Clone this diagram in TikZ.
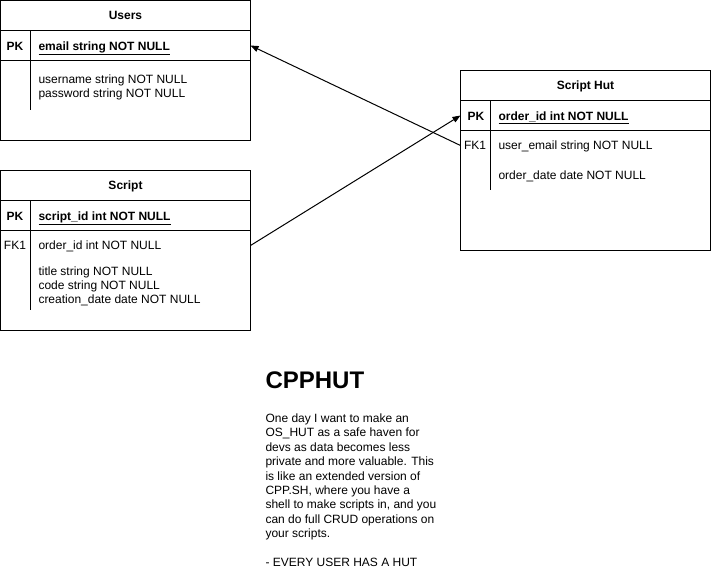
\documentclass[tikz,border=0pt]{standalone}
\usepackage{fontspec}
\setmainfont{Liberation Sans}
\usetikzlibrary{arrows.meta,positioning}

\begin{document}
\begin{tikzpicture}[
            x = 1pt, y = -1pt, % pixel grid, y pointing down
            > = {Triangle[length=8pt,width=6pt]}, % arrow head style
            line width = 1pt,
            font = \fontsize{12}{14.4}\selectfont,
            head/.style = {draw, anchor=north west, minimum width=250pt, minimum height=30pt,
                           inner sep=0pt, outer sep=0pt, text height=8.6pt, text depth=0pt,
                           font=\fontsize{12}{14.4}\selectfont\bfseries},
            row/.style = {draw, minimum width=250pt, inner sep=0pt, outer sep=0pt},
            key/.style = {anchor=base, inner sep=0pt},
            pk/.style = {key, font=\fontsize{12}{14.4}\selectfont\bfseries},
            field/.style = {anchor=base west, inner sep=0pt},
            pkey/.style = {field, font=\fontsize{12}{14.4}\selectfont\bfseries}
        ]
	\useasboundingbox (0,0) rectangle (711,581);

	% Users table
	\node[head] (users) at (0.5,0.5) {Users};
	\node[row, minimum height=30pt, below=0pt of users] (userspk) {};
	\node[row, minimum height=80pt, below=0pt of userspk] (usersbody) {};
	\draw (30.5,30.5) -- (30.5,110);
	\node[pk] at (15,50.5) {PK};
	\node[pkey] at (38,50.5) {\underline{email string NOT NULL}};
	\node[field] at (38,83) {username string NOT NULL};
	\node[field] at (38,97) {password string NOT NULL};

	% Script table
	\node[head] (script) at (0.5,170.5) {Script};
	\node[row, minimum height=30pt, below=0pt of script] (scriptpk) {};
	\node[row, minimum height=100pt, below=0pt of scriptpk] (scriptbody) {};
	\draw (30.5,200.5) -- (30.5,310);
	\node[pk] at (15,220.5) {PK};
	\node[pkey] at (38,220.5) {\underline{script\_id int NOT NULL}};
	\node[key] at (15,249.5) {FK1};
	\node[field] at (38,249.5) {order\_id int NOT NULL};
	\node[field] at (38,275.5) {title string NOT NULL};
	\node[field] at (38,289.5) {code string NOT NULL};
	\node[field] at (38,303.5) {creation\_date date NOT NULL};
	\coordinate (scriptfk) at (250.5,245.5);

	% Script Hut table
	\node[head] (hut) at (460.5,70.5) {Script Hut};
	\node[row, minimum height=30pt, below=0pt of hut] (hutpk) {};
	\node[row, minimum height=120pt, below=0pt of hutpk] (hutbody) {};
	\draw (490.5,100.5) -- (490.5,190);
	\node[pk] at (476,120.5) {PK};
	\node[pkey] at (498,120.5) {\underline{order\_id int NOT NULL}};
	\node[key] at (475,149.5) {FK1};
	\node[field] at (498,149.5) {user\_email string NOT NULL};
	\node[field] at (498,179.5) {order\_date date NOT NULL};
	\coordinate (hutfk) at (460.5,145.5);

	% relations
	\draw[->] (hutfk) -- (userspk.east);
	\draw[->] (scriptfk) -- (hutpk.west);

	% notes
	\node[anchor=base west, inner sep=0pt, font=\fontsize{24}{28}\selectfont\bfseries] (title) at (265,388) {CPPHUT};
	\node[anchor=north west, inner sep=0pt, align=left] (notes) at (265,413.2) {%
		One day I want to make an\\
		OS\_HUT as a safe haven for\\
		devs as data becomes less\\
		private and more valuable. This\\
		is like an extended version of\\
		CPP.SH, where you have a\\
		shell to make scripts in, and you\\
		can do full CRUD operations on\\
		your scripts.\\[14.4pt]
		- EVERY USER HAS A HUT};
\end{tikzpicture}
\end{document}
